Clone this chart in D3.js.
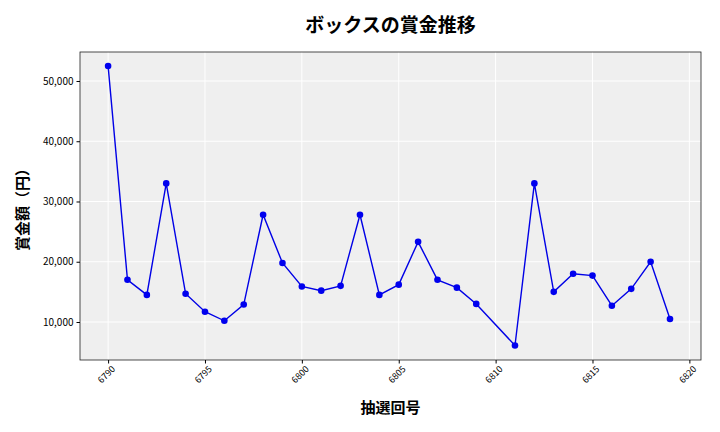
<!DOCTYPE html>
<html><head><meta charset="utf-8">
<script src="https://cdn.jsdelivr.net/npm/d3@7"></script>
<style>body{margin:0;background:#fff}text{font-family:"Noto Sans CJK JP",sans-serif}</style>
</head><body><div id="chart"></div>
<script>
var draws = [6790,6791,6792,6793,6794,6795,6796,6797,6798,6799,6800,6801,6802,6803,6804,6805,6806,6807,6808,6809,6811,6812,6813,6814,6815,6816,6817,6818,6819]
var prizes = [52500,17000,14500,33000,14700,11700,10200,12900,27800,19800,15900,15200,16000,27800,14500,16200,23300,17000,15700,13000,6100,33000,15000,18000,17700,12700,15500,20000,10500]
var xTicks = [6790,6795,6800,6805,6810,6815,6820]
var yTicks = [10000,20000,30000,40000,50000]

var width = 720, height = 432
var margin = {top: 52, right: 19, bottom: 72, left: 80}
var w = width - margin.left - margin.right,
    h = height - margin.top - margin.bottom

var svg = d3.select("#chart").append("svg").attr("width", width).attr("height", height)
var g = svg.append("g").attr("transform", "translate(" + margin.left + "," + margin.top + ")")

var x = d3.scaleLinear().domain([6788.55, 6820.6]).range([0, w])
var y = d3.scaleLinear().domain([3693, 54813]).range([h, 0])

g.append("rect").attr("width", w).attr("height", h).attr("fill", "#efefef")

g.selectAll(".gx").data(xTicks).enter().append("line")
  .attr("x1", d => x(d)).attr("x2", d => x(d)).attr("y1", 0).attr("y2", h)
  .attr("stroke", "#fff").attr("stroke-width", 1)
g.selectAll(".gy").data(yTicks).enter().append("line")
  .attr("y1", d => y(d)).attr("y2", d => y(d)).attr("x1", 0).attr("x2", w)
  .attr("stroke", "#fff").attr("stroke-width", 1)

g.append("rect").attr("width", w).attr("height", h).attr("fill", "none").attr("stroke", "#222").attr("stroke-width", 0.8)

var xa = g.append("g").attr("transform", "translate(0," + h + ")")
  .call(d3.axisBottom(x).tickValues(xTicks).tickFormat(d3.format("d")).tickSize(3.5))
xa.selectAll("text").attr("transform", "rotate(-45)").style("text-anchor", "end")
  .attr("dx", "-0.2em").attr("dy", "0.6em").style("font-size", "9px").attr("fill", "#000")
xa.select(".domain").remove()

var ya = g.append("g").call(d3.axisLeft(y).tickValues(yTicks).tickFormat(d3.format(",")).tickSize(3.5))
ya.selectAll("text").style("font-size", "10px").attr("fill", "#000")
ya.select(".domain").remove()

var line = d3.line().x((d, i) => x(draws[i])).y(d => y(d))
g.append("path").datum(prizes).attr("d", line).attr("fill", "none").attr("stroke", "#0000e6").attr("stroke-width", 1.4)
g.selectAll(".pt").data(prizes).enter().append("circle")
  .attr("cx", (d, i) => x(draws[i])).attr("cy", d => y(d)).attr("r", 3.3).attr("fill", "#0000ee")

svg.append("text").attr("x", margin.left + w / 2).attr("y", 32).attr("text-anchor", "middle")
  .style("font-size", "19px").style("font-weight", "bold").text("ボックスの賞金推移")
svg.append("text").attr("x", margin.left + w / 2).attr("y", 413).attr("text-anchor", "middle")
  .style("font-size", "15px").style("font-weight", "bold").text("抽選回号")
svg.append("text").attr("transform", "translate(28," + (margin.top + h / 2) + ") rotate(-90)")
  .attr("text-anchor", "middle").style("font-size", "15px").style("font-weight", "bold").text("賞金額（円）")
</script></body></html>
